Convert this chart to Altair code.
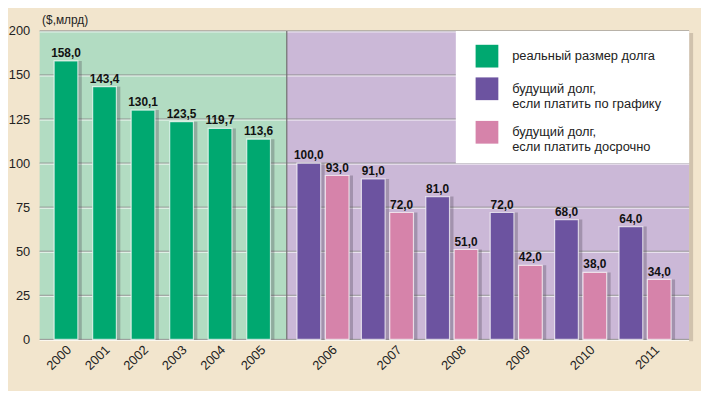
import altair as alt
import pandas as pd

# ---- data ----
years_real = [2000, 2001, 2002, 2003, 2004, 2005]
real_debt = [158.0, 143.4, 130.1, 123.5, 119.7, 113.6]

years_future = [2006, 2007, 2008, 2009, 2010, 2011]
debt_schedule = [100.0, 91.0, 81.0, 72.0, 68.0, 64.0]
debt_early = [93.0, 72.0, 51.0, 42.0, 38.0, 34.0]

series_names = [
    "реальный размер долга",
    "будущий долг,\nесли платить по графику",
    "будущий долг,\nесли платить досрочно",
]
series_colors = ["#00a870", "#6c53a0", "#d683aa"]

y_ticks = [0, 25, 50, 75, 100, 125, 150, 175]
# label anchors sit a little right of each bar / bar pair
x_label_pos = [y + 0.07 for y in years_real] + [y + 0.18 for y in years_future]

rows = []
for y, v in zip(years_real, real_debt):
    rows.append({"year": y, "value": v, "series": series_names[0]})
for y, v in zip(years_future, debt_schedule):
    rows.append({"year": y, "value": v, "series": series_names[1]})
for y, v in zip(years_future, debt_early):
    rows.append({"year": y, "value": v, "series": series_names[2]})
df = pd.DataFrame(rows)
grid_df = pd.DataFrame({"g": y_ticks})
one = pd.DataFrame({"a": [0]})

W, H = 657, 312
FONT = "Liberation Sans"

xscale = alt.Scale(domain=[1999.41, 2005, 2011.59], range=[0, 221.5, W], nice=False, zero=False)
yscale = alt.Scale(domain=[0, 175], nice=False)

s1 = series_names[1].replace("\n", "\\n")
s2 = series_names[2].replace("\n", "\\n")
base = alt.Chart(df).transform_calculate(
    xpos=f"datum.year + (datum.series == '{s1}' ? -0.22 : (datum.series == '{s2}' ? 0.22 : 0))",
    lab="replace(format(datum.value, '.1f'), '.', ',')",
)

x_enc = alt.X(
    "xpos:Q", scale=xscale, title=None,
    axis=alt.Axis(values=x_label_pos, labelExpr="toString(floor(datum.value))",
                  labelAngle=-45, labelAlign="right", labelBaseline="middle",
                  ticks=False, domain=False, grid=False, labelFontSize=13, labelFont=FONT,
                  labelColor="#222", labelPadding=8),
)
y_enc = alt.Y(
    "value:Q", scale=yscale,
    axis=alt.Axis(values=y_ticks, labelExpr="datum.value == 175 ? '200' : datum.label",
                  ticks=False, domain=False, grid=False, labelFontSize=13, labelFont=FONT,
                  labelColor="#222", labelPadding=10,
                  title="($,млрд)", titleAngle=0, titleAlign="left", titleBaseline="bottom",
                  titleX=2, titleY=-5, titleFontSize=12, titleFontWeight="normal",
                  titleFont=FONT, titleColor="#222"),
)

bg_green = alt.Chart(one).mark_rect(color="#b2dcc2").encode(
    x=alt.value(0), x2=alt.value(250), y=alt.value(0), y2=alt.value(H))
bg_purple = alt.Chart(one).mark_rect(color="#cbb8d7").encode(
    x=alt.value(250), x2=alt.value(W), y=alt.value(0), y2=alt.value(H))
edge_shadow = alt.Chart(one).mark_rect(color="#b9aa98", opacity=0.6).encode(
    x=alt.value(W), x2=alt.value(W + 4), y=alt.value(2), y2=alt.value(H + 2))

grid_dark = alt.Chart(grid_df).mark_rule(color="#8a8a8a", strokeWidth=1).encode(
    y=alt.Y("g:Q", scale=yscale), x=alt.value(0), x2=alt.value(W))
grid_light = alt.Chart(grid_df).mark_rule(color="#ffffff", strokeWidth=1, opacity=0.8, yOffset=1).encode(
    y=alt.Y("g:Q", scale=yscale), x=alt.value(0), x2=alt.value(W))

sep = alt.Chart(one).mark_rule(color="#6e6e6e", strokeWidth=1.2).encode(
    x=alt.value(250), y=alt.value(0), y2=alt.value(H))

legend_box = alt.Chart(one).mark_rect(color="#ffffff").encode(
    x=alt.value(421), x2=alt.value(W), y=alt.datum(100, scale=yscale), y2=alt.datum(175))

shadow = base.mark_bar(size=24, color="#3b3340", opacity=0.28, xOffset=4).encode(
    x=x_enc, y=y_enc)

bars = base.mark_bar(size=24, stroke="#ffffff", strokeWidth=1.2, strokeOpacity=0.7).encode(
    x=x_enc, y=y_enc,
    color=alt.Color(
        "series:N",
        scale=alt.Scale(domain=series_names, range=series_colors),
        legend=alt.Legend(
            title=None, orient="none", legendX=441, legendY=14,
            symbolType="square", symbolSize=529, symbolStrokeWidth=0,
            labelFontSize=13, labelFont=FONT, labelColor="#222", labelOffset=14,
            labelLimit=400, rowPadding=10,
            labelExpr="split(datum.label, '\\n')",
        ),
    ),
)

labels = base.mark_text(fontSize=12, fontWeight="bold", font=FONT, color="#111",
                        baseline="alphabetic", dy=-4).encode(
    x=alt.X("xpos:Q", scale=xscale), y=alt.Y("value:Q", scale=yscale), text="lab:N")

chart = alt.layer(
    bg_green, bg_purple, edge_shadow, grid_dark, grid_light, sep, legend_box, shadow, bars, labels
).properties(
    width=W, height=H, background="#f2e5cd",
    padding={"left": 32, "top": 21, "right": 12, "bottom": 50},
    autosize=alt.AutoSizeParams(type="none"),
).configure_view(stroke=None)

chart.save("out.html", embed_options={"renderer": "svg", "actions": False})
